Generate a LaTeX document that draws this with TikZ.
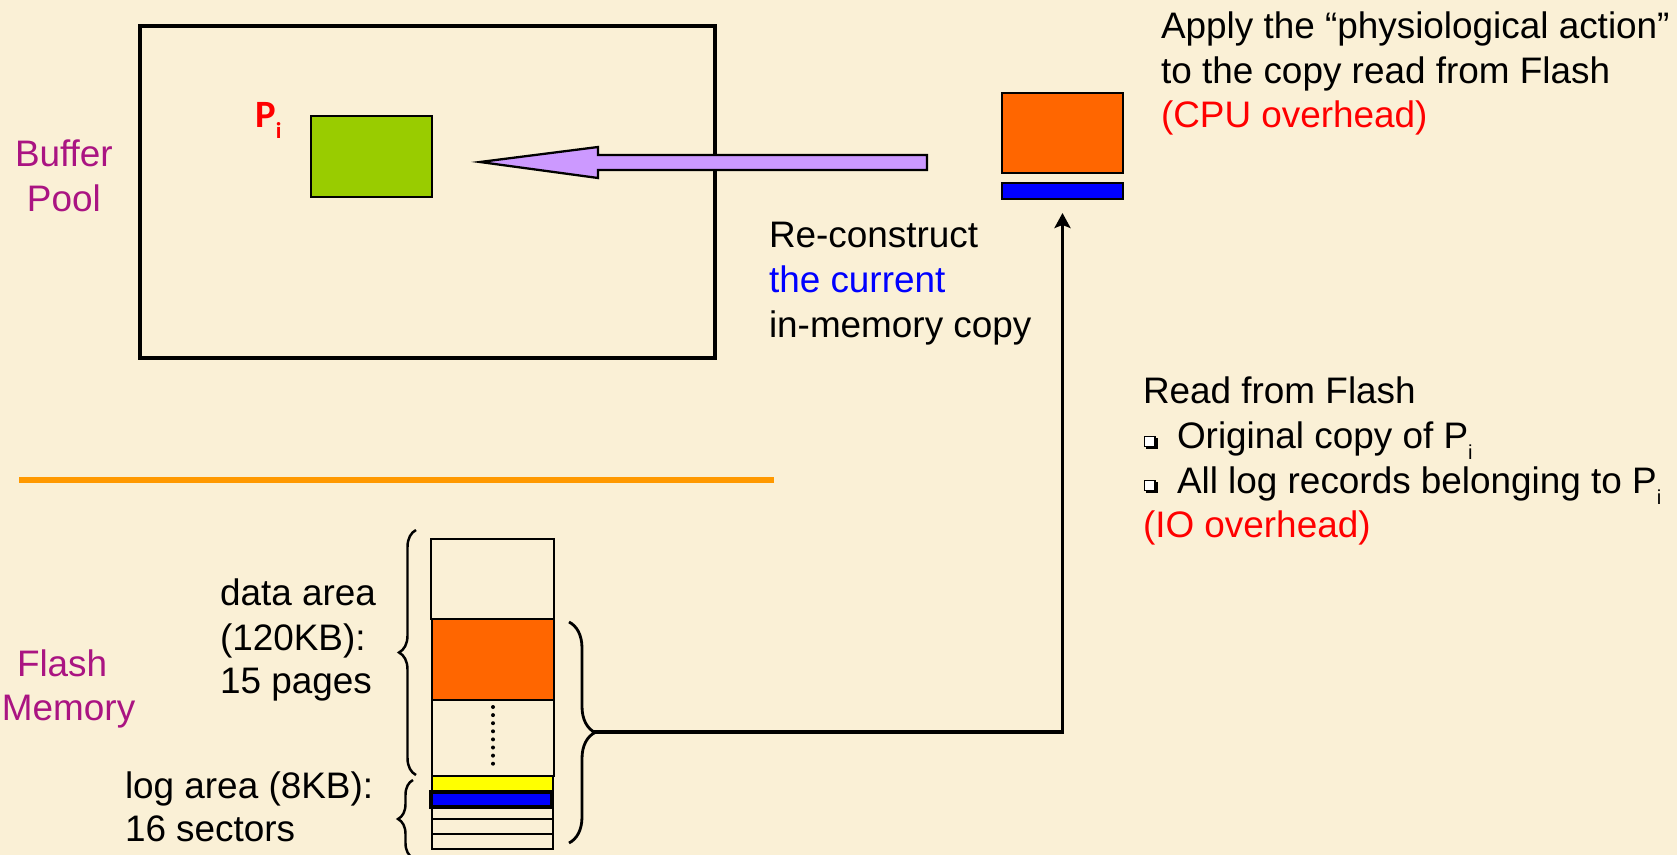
\documentclass[tikz,border=0pt]{standalone}
\usepackage{fontspec}
\setmainfont{Liberation Sans}
\newfontfamily\calibfont{Carlito}
\usetikzlibrary{arrows.meta,decorations.pathreplacing}
\definecolor{bgc}{RGB}{250,240,214}
\definecolor{plum}{RGB}{170,20,130}
\definecolor{pgreen}{HTML}{99CC00}
\definecolor{porange}{HTML}{FF6600}
\definecolor{pblue}{HTML}{0000FF}
\definecolor{pyellow}{HTML}{FFFF00}
\definecolor{pviolet}{HTML}{CC99FF}
\definecolor{sepor}{HTML}{FF9900}
\definecolor{pred}{HTML}{FF0000}
\begin{document}
\begin{tikzpicture}[x=0.02cm,y=-0.02cm,
  txt/.style={anchor=base west, inner sep=0, outer sep=0, font=\fontsize{21}{25}\selectfont},
  box/.style={anchor=north west, inner sep=0, outer sep=0, draw=black, line width=1.1pt},
  bracestyle/.style={decorate, line width=1.4pt},
  conn/.style={line width=1.8pt, -{Stealth[length=0.3cm,width=0.32cm,inset=0.06cm]}}]
\fill[bgc] (0,0) rectangle (1677,855);
\useasboundingbox (0,0) rectangle (1677,855);

% buffer pool
\node[box, line width=2.2pt, minimum width=11.5cm, minimum height=6.64cm] (pool) at (140,26) {};
\node[box, fill=pgreen, minimum width=2.42cm, minimum height=1.62cm] (green) at (311,116) {};
\node[anchor=base west, inner sep=0, text=pred, font=\calibfont\bfseries\fontsize{22}{26}\selectfont] (pi) at (255,128)
  {P\raisebox{-5.7pt}{\fontsize{13}{15}\selectfont i}};

\node[txt, text=plum] (buf1) at (15,167) {Buffer};
\node[txt, text=plum] (buf2) at (27,211) {Pool};

% purple arrow
\draw[fill=pviolet, line width=1.3pt, line join=miter] (480,162) -- (598,147) -- (598,155) -- (927,155)
  -- (927,170) -- (598,170) -- (598,178) -- cycle;

% right page copy
\node[box, fill=porange, minimum width=2.42cm, minimum height=1.6cm] (rorange) at (1002,93) {};
\node[box, fill=pblue, line width=1.5pt, minimum width=2.42cm, minimum height=0.32cm] (rblue) at (1002,183) {};

% texts right top
\node[txt] (ap1) at (1161,39) {Apply the “physiological action”};
\node[txt] (ap2) at (1161,84) {to the copy read from Flash};
\node[txt, text=pred] (ap3) at (1161,128) {(CPU overhead)};

\node[txt] (rc1) at (769,247) {Re-construct};
\node[txt, text=pblue] (rc2) at (769,292) {the current};
\node[txt] (rc3) at (769,337) {in-memory copy};

\node[txt] (rf1) at (1143,403) {Read from Flash};
\node[txt] (rf2) at (1177,448) {Original copy of P\raisebox{-6.8pt}{\fontsize{11.5}{13}\selectfont i}};
\node[txt] (rf3) at (1177,493) {All log records belonging to P\raisebox{-6.8pt}{\fontsize{11.5}{13}\selectfont i}};
\node[txt, text=pred] (rf4) at (1143,537) {(IO overhead)};
\foreach \yy in {436,480}{
  \fill[black] (1146,\yy+2) rectangle (1158,\yy+13);
  \fill[white] (1144,\yy) rectangle (1155,\yy+10.5);
  \draw[line width=0.6pt] (1144.5,\yy+0.5) rectangle (1155,\yy+10.5);
}

% separator
\draw[sepor, line width=3.4pt] (19,480) -- (774,480);

% flash memory labels
\node[txt, text=plum] (fl1) at (17,676) {Flash};
\node[txt, text=plum] (fl2) at (2,720) {Memory};
\node[txt] (da1) at (220,605) {data area};
\node[txt] (da2) at (220,650) {(120KB):};
\node[txt] (da3) at (220,693) {15 pages};
\node[txt] (la1) at (125,798) {log area (8KB):};
\node[txt] (la2) at (125,841) {16 sectors};

% flash blocks
\node[box, line width=1.4pt, minimum width=2.46cm, minimum height=1.6cm] (fb1) at (431,539) {};
\node[box, fill=porange, line width=1.4pt, minimum width=2.44cm, minimum height=1.62cm] (fb2) at (432,619) {};
\node[box, minimum width=2.44cm, minimum height=1.52cm] (fb3) at (432,700) {};
\foreach \k in {0,...,7} \fill (493,707+8.1*\k) circle (0.04cm);
\node[box, fill=pyellow, minimum width=2.42cm, minimum height=0.32cm] (fy) at (432,776) {};
\node[box, fill=pblue, line width=1.8pt, minimum width=2.42cm, minimum height=0.3cm] (fbl) at (431,792) {};
\node[box, minimum width=2.42cm, minimum height=0.24cm] (s1) at (432,807) {};
\node[box, minimum width=2.42cm, minimum height=0.3cm] (s2) at (432,819) {};
\node[box, minimum width=2.42cm, minimum height=0.3cm] (s3) at (432,834) {};

% braces
\draw[bracestyle, decoration={brace, amplitude=0.34cm}] (416,775) -- (416,530);
\draw[bracestyle, decoration={brace, amplitude=0.3cm}] (413,858) -- (413,780);
\draw[bracestyle, line width=1.6pt, decoration={brace, amplitude=0.52cm}] (569,622) -- (569,843);
\coordinate (rbtip) at (594,732);

% connector
\draw[conn, shorten >=0.28cm] (rbtip) -| (rblue.south);
\end{tikzpicture}
\end{document}
